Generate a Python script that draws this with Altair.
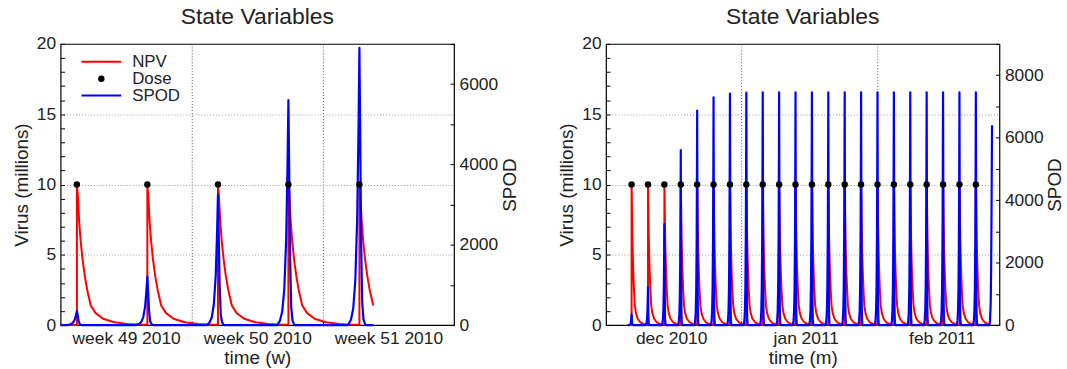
import altair as alt
import pandas as pd

# ---------------- values ----------------
# left panel: x in days since Mon 6 Dec 2010 (start of week 49)
left_dose_days = [0.87, 4.63, 8.40, 12.16, 15.95]
left_spod_peaks = [350, 1210, 3240, 5600, 6900]
left_start, left_end = 0.0, 16.69
left_x_domain = [0, 21]
left_grid_days = [7, 14]
left_label_days = [3.5, 10.5, 17.5]
left_labels = ["week 49 2010", "week 50 2010", "week 51 2010"]
left_spod_max = 7000

# right panel: x in days since 1 Dec 2010
right_dose_days = [5.85, 9.6, 13.35, 17.1, 20.85, 24.6, 28.35, 32.1, 35.85, 39.6, 43.35,
                   47.1, 50.85, 54.6, 58.35, 62.1, 65.85, 69.6, 73.35, 77.1, 80.85, 84.6]
right_spod_peaks = [345, 1220, 3230, 5600, 6870, 7290, 7410, 7440, 7450, 7450, 7450,
                    7450, 7450, 7450, 7450, 7450, 7450, 7450, 7450, 7450, 7450, 7450]
right_final_spike_days = [87.7, 87.85, 88.0, 88.1, 88.2, 88.3]
right_final_spike_vals = [0, 150, 700, 1800, 3800, 6400]
right_start, right_end = 5.0, 88.3
right_x_domain = [0, 90]
right_grid_days = [31, 62]
right_label_days = [14.9, 45.7, 76.8]
right_labels = ["dec 2010", "jan 2011", "feb 2011"]
right_spod_max = 9000

dose_level = 10

# shape of one NPV decay after a dose (days after dose, millions)
npv_decay_offsets = [0, 0.05, 0.12, 0.2, 0.3, 0.42, 0.55, 0.74, 1.0, 1.4, 2.0, 2.7, 3.4]
npv_decay_values = [10, 9.2, 7.4, 6.0, 4.7, 3.5, 2.5, 1.4, 0.85, 0.45, 0.2, 0.08, 0.03]

# shape of one SPOD spike around a dose (days from dose, fraction of peak)
spod_spike_offsets = [-0.6, -0.45, -0.33, -0.22, -0.12, -0.05, 0, 0.04, 0.09, 0.15, 0.22, 0.32]
spod_spike_fracs = [0.0, 0.02, 0.06, 0.16, 0.38, 0.7, 1.0, 0.7, 0.3, 0.08, 0.02, 0.0]

series_names = ["NPV", "Dose", "SPOD"]
series_colors = ["#ff0000", "#000000", "#0000ff"]
series_shapes = ["stroke", "circle", "stroke"]
series_sizes = [1600, 20, 1600]

FONT = "Liberation Sans"
TXT = "#222222"


def npv_table(doses, start, end):
    rows = [(start, 0.0)]
    for i, d in enumerate(doses):
        nxt = doses[i + 1] if i + 1 < len(doses) else end
        rows.append((d, rows[-1][1]))
        for off, v in zip(npv_decay_offsets, npv_decay_values):
            if d + off > nxt + 1e-9:
                break
            rows.append((d + off, v))
    return pd.DataFrame({"t": [r[0] for r in rows], "v": [r[1] for r in rows],
                         "i": list(range(len(rows)))})


def spod_table(doses, peaks, start, end, final_days=None, final_vals=None):
    rows = [(start, 0.0)]
    for d, p in zip(doses, peaks):
        for off, f in zip(spod_spike_offsets, spod_spike_fracs):
            rows.append((d + off, f * p))
    if final_days:
        rows += list(zip(final_days, final_vals))
    elif rows[-1][0] < end:
        rows.append((end, 0.0))
    return pd.DataFrame({"t": [r[0] for r in rows], "v": [r[1] for r in rows],
                         "i": list(range(len(rows)))})


def cond(test, yes, no):
    return {"condition": {"test": test, "value": yes}, "value": no}


def label_expr(days, labels):
    expr = "''"
    for d, lab in reversed(list(zip(days, labels))):
        expr = f"datum.value == {d} ? '{lab}' : ({expr})"
    return expr


def legend():
    return alt.Legend(title=None, orient="none", legendX=20, legendY=10,
                      clipHeight=16, rowPadding=0, labelOffset=10,
                      labelFontSize=17, labelFont=FONT, labelColor=TXT,
                      symbolStrokeWidth=2, padding=0)


def panel(doses, peaks, start, end, x_domain, grid_days, label_days, labels,
          xtitle, spod_max, final_days=None, final_vals=None):
    npv = npv_table(doses, start, end)
    spod = spod_table(doses, peaks, start, end, final_days, final_vals)
    dose = pd.DataFrame({"t": doses, "v": [dose_level] * len(doses),
                         "series": ["Dose"] * len(doses)})

    tick_vals = sorted([x_domain[0], x_domain[1]] + grid_days + label_days)
    grid_test = " || ".join(f"datum.value == {g}" for g in grid_days)
    x_axis = alt.Axis(
        values=tick_vals, labelExpr=label_expr(label_days, labels), title=xtitle,
        grid=True, gridOpacity=cond(grid_test, 1, 0), gridColor="#555555",
        gridDash=[1, 2], tickOpacity=cond(grid_test, 1, 0), tickColor="#000000",
        tickSize=4, offset=-4, domain=False, labelPadding=5, titlePadding=1,
        labelOverlap=False, labelFlush=False,
    )
    x = alt.X("t:Q", scale=alt.Scale(domain=x_domain, nice=False, zero=False), axis=x_axis)

    npv_axis = alt.Axis(
        values=list(range(0, 21)), labelExpr="datum.value % 5 == 0 ? datum.label : ''",
        title="Virus (millions)", orient="left", grid=True,
        gridOpacity=cond("datum.value == 5 || datum.value == 10 || datum.value == 15", 1, 0),
        gridColor="#9a9a9a", gridDash=[1, 2], tickSize=4, offset=-4, domain=False,
        tickColor="#000000", labelPadding=5, titlePadding=5,
    )
    spod_axis = alt.Axis(
        values=list(range(0, spod_max + 1, 1000)),
        labelExpr="datum.value % 2000 == 0 ? datum.label : ''", format="d",
        title="SPOD", orient="right", grid=False, tickSize=4, offset=-4, domain=False,
        tickColor="#000000", labelPadding=5, titlePadding=3, titleAngle=270,
        titleBaseline="top",
    )

    npv_line = alt.Chart(npv).mark_line(color="#ff0000", strokeWidth=2, strokeJoin="round").encode(
        x=x, y=alt.Y("v:Q", scale=alt.Scale(domain=[0, 20], nice=False), axis=npv_axis),
        order="i:Q")
    spod_line = alt.Chart(spod).mark_line(color="#0000ff", strokeWidth=2.2, strokeJoin="round").encode(
        x=x, y=alt.Y("v:Q", scale=alt.Scale(domain=[0, spod_max], nice=False), axis=spod_axis),
        order="i:Q")
    dose_pts = alt.Chart(dose).mark_point(filled=False, fill="#000000", strokeWidth=2, opacity=1).encode(
        x=x, y=alt.Y("v:Q", scale=alt.Scale(domain=[0, 20], nice=False), axis=None),
        color=alt.Color("series:N", scale=alt.Scale(domain=series_names, range=series_colors),
                        legend=legend()),
        shape=alt.Shape("series:N", scale=alt.Scale(domain=series_names, range=series_shapes),
                        legend=legend()),
        size=alt.Size("series:N", scale=alt.Scale(type="ordinal", domain=series_names, range=series_sizes),
                      legend=legend()),
    )

    return alt.layer(npv_line, spod_line, dose_pts).resolve_scale(y="independent").properties(
        width=396, height=283,
        title=alt.TitleParams("State Variables", fontSize=23, font=FONT, color=TXT,
                              fontWeight="normal", offset=6, anchor="middle"),
    )


left = panel(left_dose_days, left_spod_peaks, left_start, left_end, left_x_domain,
             left_grid_days, left_label_days, left_labels, "time (w)", left_spod_max)
right = panel(right_dose_days, right_spod_peaks, right_start, right_end, right_x_domain,
              right_grid_days, right_label_days, right_labels, "time (m)", right_spod_max,
              right_final_spike_days, right_final_spike_vals)

chart = alt.hconcat(left, right, spacing=36).properties(
    padding={"left": 11, "top": 4, "right": 1, "bottom": 2},
    background="white",
).configure_view(stroke="#000000", strokeWidth=1.2).configure_axis(
    labelFont=FONT, titleFont=FONT, labelColor=TXT, titleColor=TXT,
    labelFontSize=17.5, titleFontSize=19, titleFontWeight="normal",
)

chart.save("out.html", embed_options={"renderer": "svg", "actions": False})
